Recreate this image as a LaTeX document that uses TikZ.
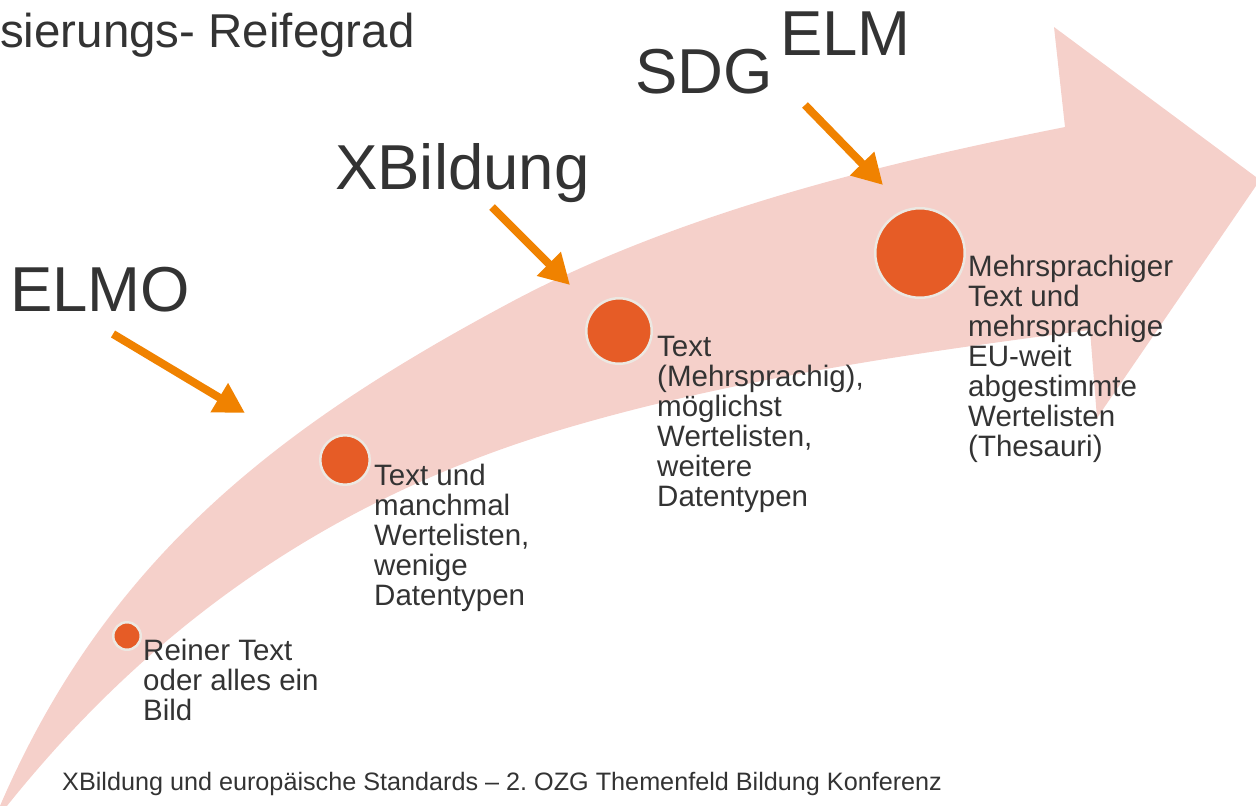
\documentclass[tikz,border=0pt]{standalone}
\usepackage{fontspec}
\setmainfont{Liberation Sans}
\usetikzlibrary{arrows.meta}
\frenchspacing
\definecolor{bandpink}{HTML}{F5D0CA}
\definecolor{dotorange}{HTML}{E65C26}
\definecolor{dotring}{HTML}{ECE8E2}
\definecolor{pointer}{HTML}{F08200}
\definecolor{ink}{HTML}{333333}
\begin{document}
\begin{tikzpicture}[x=1pt,y=-1pt,
  bigname/.style={font=\fontsize{63.5}{64}\selectfont, text=ink, anchor=base west, inner sep=0},
  headline/.style={font=\fontsize{47.5}{48}\selectfont, text=ink, anchor=base west, inner sep=0},
  footline/.style={font=\fontsize{25.2}{26}\selectfont, text=ink, anchor=base west, inner sep=0},
  desc/.style={font=\fontsize{29.5}{30}\selectfont, text=ink, anchor=north west, inner sep=0, align=left},
  dot/.style={circle, fill=dotorange, draw=dotring, line width=2.5pt, inner sep=0},
  pointerarrow/.style={draw=pointer, line width=8pt, -{Triangle[length=30pt,width=32pt]}}]
\useasboundingbox (0,0) rectangle (1256,806);
\clip (0,0) rectangle (1256,806);
% curved band arrow
\fill[bandpink] (-8,825) .. controls (100,560) and (280,425) .. (515,300)
  .. controls (695,205) and (915,157) .. (1065,127)
  -- (1054,27) -- (1260,180) -- (1097,418) -- (1090,330)
  .. controls (920,352) and (730,379) .. (560,430)
  .. controls (340,496) and (150,620) .. (-8,825) -- cycle;
% dots
\node[dot, minimum size=27.5pt] (d1) at (127,636) {};
\node[dot, minimum size=49.5pt] (d2) at (345,460) {};
\node[dot, minimum size=65.5pt] (d3) at (619,331) {};
\node[dot, minimum size=89.5pt] (d4) at (920,253) {};
% descriptions
\node[desc] (t1) at (143,636) {\rule{0pt}{24pt}Reiner Text\\oder alles ein\\Bild};
\node[desc] (t2) at (374,461) {\rule{0pt}{24pt}Text und\\manchmal\\Wertelisten,\\wenige\\Datentypen};
\node[desc] (t3) at (657,332) {\rule{0pt}{24pt}Text\\(Mehrsprachig),\\möglichst\\Wertelisten,\\weitere\\Datentypen};
\node[desc] (t4) at (968,252) {\rule{0pt}{24pt}Mehrsprachiger\\Text und\\mehrsprachige\\EU-weit\\abgestimmte\\Wertelisten\\(Thesauri)};
% names
\node[headline] (head) at (0,47) {sierungs- Reifegrad};
\node[bigname] (elmo) at (10,311) {ELMO};
\node[bigname] (xbild) at (335,189) {XBildung};
\node[bigname] (sdg) at (635,93) {SDG};
\node[bigname] (elm) at (780,55) {ELM};
\node[footline] (foot) at (62,790) {XBildung und europäische Standards – 2. OZG Themenfeld Bildung Konferenz};
% pointers
\coordinate (p1s) at (113,334); \coordinate (p1e) at (245,413);
\coordinate (p2s) at (492,207); \coordinate (p2e) at (570,285);
\coordinate (p3s) at (805,105); \coordinate (p3e) at (883,185);
\draw[pointerarrow] (p1s) -- (p1e);
\draw[pointerarrow] (p2s) -- (p2e);
\draw[pointerarrow] (p3s) -- (p3e);
\end{tikzpicture}
\end{document}
